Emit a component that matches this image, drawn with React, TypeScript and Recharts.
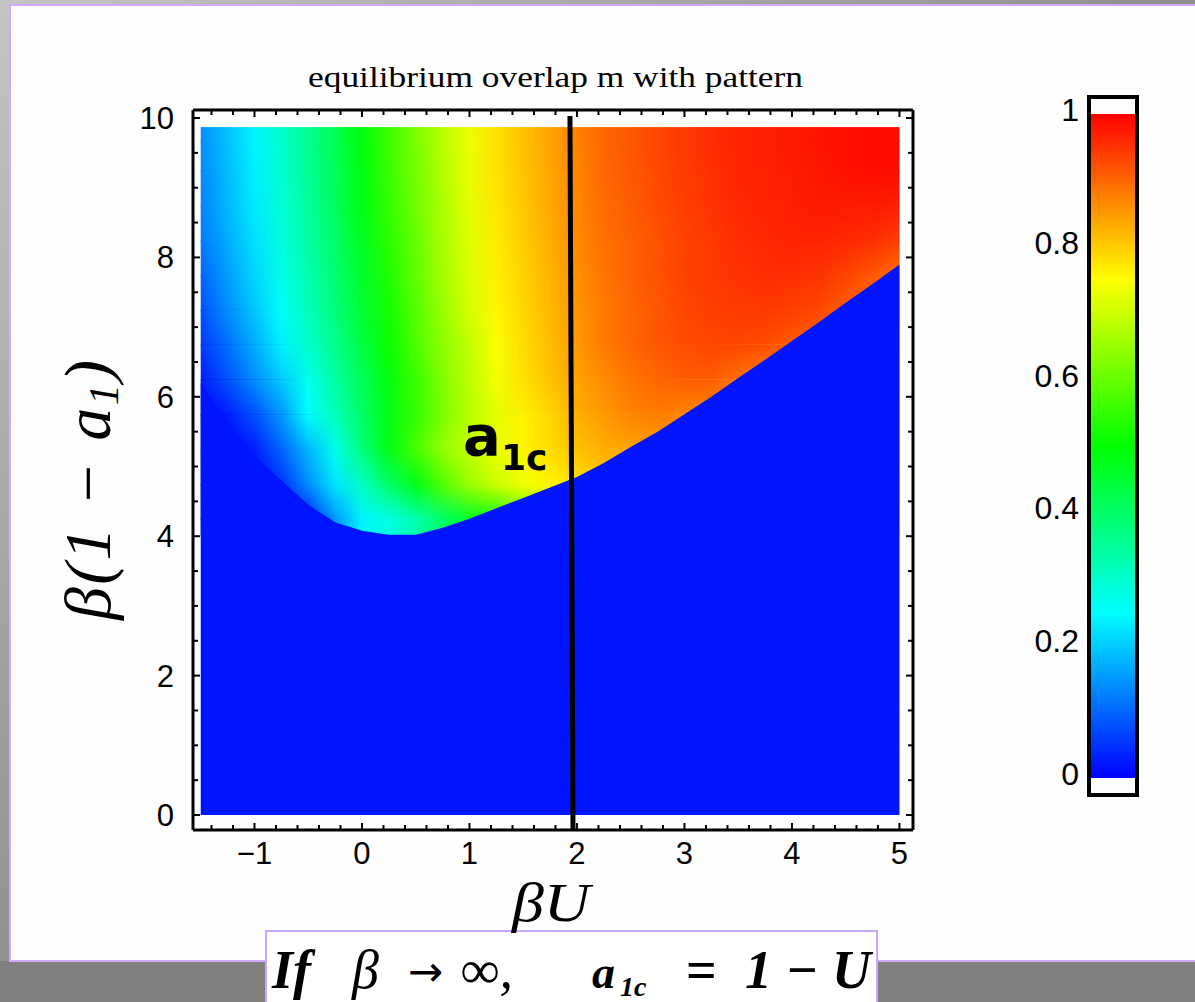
import React from "react";
import {
  Area,
  ComposedChart,
  ReferenceArea,
  ReferenceLine,
  XAxis,
  YAxis,
} from "recharts";

const X_COLS = [
  -1.5, -1.25, -1, -0.75, -0.5, -0.25, 0, 0.25, 0.5, 0.75, 1, 1.25, 1.5, 1.75,
  2, 2.25, 2.5, 2.75, 3, 3.25, 3.5, 3.75, 4, 4.25, 4.5, 4.75, 5,
];

// β(1-a1) below which m = 0 (blue region), one per column
const BOUNDARY = [
  6.2, 5.65, 5.15, 4.8, 4.45, 4.2, 4.08, 4.02, 4.02, 4.12, 4.25, 4.4, 4.55, 4.7,
  4.85, 5.05, 5.28, 5.5, 5.75, 6.0, 6.27, 6.53, 6.8, 7.07, 7.35, 7.62, 7.9,
];

// horizontal bands of the map (β(1-a1) range), top to bottom
const ROW_HI = [9.87, 9.5, 9.0, 8.5, 8.0, 7.5, 7.0, 6.5, 6.0, 5.5, 5.0, 4.5];
const ROW_LO = [9.5, 9.0, 8.5, 8.0, 7.5, 7.0, 6.5, 6.0, 5.5, 5.0, 4.5, 4.0];

// overlap m in each band, per column
const M_ROWS = [
  [0.14, 0.19, 0.24, 0.3, 0.36, 0.42, 0.49, 0.56, 0.62, 0.68, 0.73, 0.78, 0.81, 0.84, 0.873, 0.9, 0.915, 0.93, 0.945, 0.955, 0.965, 0.97, 0.975, 0.98, 0.985, 0.99, 0.99],
  [0.135, 0.185, 0.235, 0.295, 0.355, 0.415, 0.485, 0.555, 0.615, 0.675, 0.728, 0.778, 0.808, 0.838, 0.87, 0.898, 0.913, 0.928, 0.943, 0.953, 0.963, 0.968, 0.973, 0.978, 0.983, 0.988, 0.988],
  [0.13, 0.18, 0.23, 0.29, 0.35, 0.41, 0.48, 0.55, 0.61, 0.67, 0.725, 0.775, 0.805, 0.835, 0.868, 0.895, 0.91, 0.925, 0.94, 0.95, 0.96, 0.965, 0.97, 0.975, 0.975, 0.975, 0.97],
  [0.12, 0.17, 0.22, 0.28, 0.34, 0.4, 0.47, 0.54, 0.6, 0.665, 0.72, 0.77, 0.8, 0.83, 0.865, 0.89, 0.905, 0.92, 0.935, 0.945, 0.955, 0.96, 0.965, 0.965, 0.96, 0.955, 0.94],
  [0.1, 0.155, 0.21, 0.27, 0.33, 0.39, 0.46, 0.53, 0.595, 0.66, 0.715, 0.765, 0.795, 0.825, 0.86, 0.885, 0.905, 0.92, 0.935, 0.945, 0.95, 0.955, 0.955, 0.95, 0.935, 0.915, 0.89],
  [0.08, 0.14, 0.195, 0.255, 0.32, 0.38, 0.45, 0.52, 0.585, 0.65, 0.71, 0.76, 0.79, 0.82, 0.855, 0.88, 0.9, 0.915, 0.93, 0.94, 0.945, 0.945, 0.94, 0.93, 0.91, 0.89, 0.87],
  [0.055, 0.11, 0.17, 0.235, 0.3, 0.365, 0.435, 0.51, 0.575, 0.64, 0.69, 0.745, 0.785, 0.815, 0.85, 0.88, 0.9, 0.915, 0.925, 0.93, 0.93, 0.925, 0.91, 0.9, 0.88, 0.86, 0.84],
  [0.03, 0.08, 0.14, 0.2, 0.27, 0.34, 0.415, 0.49, 0.56, 0.625, 0.685, 0.74, 0.78, 0.81, 0.84, 0.865, 0.885, 0.9, 0.91, 0.91, 0.89, 0.87, 0.86, 0.85, 0.83, 0.81, 0.79],
  [0.01, 0.03, 0.08, 0.15, 0.25, 0.32, 0.4, 0.48, 0.55, 0.62, 0.68, 0.72, 0.765, 0.79, 0.83, 0.85, 0.87, 0.88, 0.87, 0.86, 0.85, 0.84, 0.83, 0.82, 0.81, 0.8, 0.8],
  [0, 0, 0.03, 0.1, 0.18, 0.27, 0.38, 0.48, 0.57, 0.645, 0.69, 0.73, 0.76, 0.785, 0.81, 0.83, 0.84, 0.84, 0.83, 0.82, 0.81, 0.8, 0.8, 0.8, 0.8, 0.8, 0.8],
  [0, 0, 0, 0.05, 0.14, 0.225, 0.31, 0.4, 0.48, 0.58, 0.655, 0.7, 0.735, 0.76, 0.78, 0.8, 0.8, 0.8, 0.8, 0.8, 0.8, 0.8, 0.8, 0.8, 0.8, 0.8, 0.8],
  [0, 0, 0, 0, 0.04, 0.15, 0.24, 0.28, 0.33, 0.4, 0.46, 0.52, 0.58, 0.62, 0.65, 0.68, 0.7, 0.7, 0.7, 0.7, 0.7, 0.7, 0.7, 0.7, 0.7, 0.7, 0.7],
];

const X_LABELS = [-1, 0, 1, 2, 3, 4, 5];
const Y_LABELS = [0, 2, 4, 6, 8, 10];
const CBAR_LABELS = [0, 0.2, 0.4, 0.6, 0.8, 1];
const CBAR_STOPS = [0, 0.25, 0.5, 0.75, 1];

// the a1c cut drawn over the map
const CUT_LINE = [
  { x: 1.935, y: 10.03 },
  { x: 1.963, y: -0.215 },
];

const X_DOMAIN = [-1.572, 5.126];
const Y_DOMAIN = [-0.215, 10.115];
const X_MIN = X_COLS[0];
const X_MAX = X_COLS[X_COLS.length - 1];

const range = (a: number, b: number, step: number) => {
  const out: number[] = [];
  for (let v = a; v <= b + 1e-9; v += step) out.push(Math.round(v * 100) / 100);
  return out;
};
const X_TICKS = range(-1.4, 5, 0.2);
const Y_TICKS = range(0, 10, 0.5);

const TICK_FONT = "'Liberation Sans', Arial, sans-serif";
const SERIF = "'Liberation Serif', 'Times New Roman', serif";
const BLUE = "#0014ff";

// Mathematica-style Hue colouring: m=0 blue ... m=1 red
function hueColor(m: number) {
  const h = (2 / 3) * (1 - Math.max(0, Math.min(1, m)));
  const s = h * 6;
  const i = Math.floor(s);
  const f = s - i;
  let r = 0, g = 0, b = 0;
  if (i === 0) { r = 1; g = f; }
  else if (i === 1) { r = 1 - f; g = 1; }
  else if (i === 2) { g = 1; b = f; }
  else if (i === 3) { g = 1 - f; b = 1; }
  else { b = 1; }
  return `rgb(${Math.round(r * 255)},${Math.round(g * 255)},${Math.round(b * 255)})`;
}

const isMajor = (v: number, majors: number[]) =>
  majors.some((m) => Math.abs(m - v) < 1e-6);
const fmt = (v: number) => (v < 0 ? `\u2212${-v}` : `${v}`);

function XTick(props: any) {
  const { x, y, payload, side } = props;
  const major = isMajor(payload.value, X_LABELS);
  const len = major ? 7 : 5;
  const dir = side === "bottom" ? -1 : 1;
  return (
    <g>
      <line x1={x} x2={x} y1={y} y2={y + dir * len} stroke="#000" strokeWidth={2} />
      {side === "bottom" && major && (
        <text x={x} y={y + 34} textAnchor="middle" fontFamily={TICK_FONT} fontSize={31} fill="#000">
          {fmt(payload.value)}
        </text>
      )}
    </g>
  );
}

function YTick(props: any) {
  const { x, y, payload, side } = props;
  const major = isMajor(payload.value, Y_LABELS);
  const len = major ? 7 : 5;
  const dir = side === "left" ? 1 : -1;
  return (
    <g>
      <line x1={x} x2={x + dir * len} y1={y} y2={y} stroke="#000" strokeWidth={2} />
      {side === "left" && major && (
        <text x={x - 19} y={y + 11} textAnchor="end" fontFamily={TICK_FONT} fontSize={31} fill="#000">
          {fmt(payload.value)}
        </text>
      )}
    </g>
  );
}

function CbarTick(props: any) {
  const { x, y, payload } = props;
  return (
    <text x={x - 10} y={y + 7} textAnchor="end" fontFamily={TICK_FONT} fontSize={32} fill="#000">
      {`${payload.value}`}
    </text>
  );
}

const frameLine = { stroke: "#000", strokeWidth: 3 };

// each pair of neighbouring read rows is blended vertically between their centres
function bandPieces() {
  const mid = ROW_HI.map((hi, r) => (hi + ROW_LO[r]) / 2);
  const pieces: { lo: number; hi: number; base: number; over: number | null }[] = [];
  pieces.push({ lo: mid[0], hi: ROW_HI[0], base: 0, over: null });
  for (let r = 0; r < M_ROWS.length - 1; r++) {
    pieces.push({ lo: mid[r + 1], hi: mid[r], base: r + 1, over: r });
  }
  const last = M_ROWS.length - 1;
  pieces.push({ lo: ROW_LO[last], hi: mid[last], base: last, over: null });
  return pieces;
}

function OverlapMap() {
  const blueData = X_COLS.map((x, i) => ({ x, blue: [0, BOUNDARY[i]] }));
  const pieces = bandPieces();
  return (
    <ComposedChart
      width={1195}
      height={1002}
      data={blueData}
      margin={{ top: 100, right: 272, bottom: 112, left: 133 }}
    >
      <defs>
        {M_ROWS.map((row, r) => (
          <linearGradient key={r} id={`band${r}`} x1="0" y1="0" x2="1" y2="0">
            {row.map((m, c) => (
              <stop
                key={c}
                offset={(X_COLS[c] - X_MIN) / (X_MAX - X_MIN)}
                stopColor={hueColor(m)}
              />
            ))}
          </linearGradient>
        ))}
        <linearGradient id="vfade" x1="0" y1="0" x2="0" y2="1">
          <stop offset="0" stopColor="#fff" />
          <stop offset="1" stopColor="#000" />
        </linearGradient>
        <mask id="fadeDown" maskContentUnits="objectBoundingBox">
          <rect x="0" y="0" width="1" height="1" fill="url(#vfade)" />
        </mask>
      </defs>
      <XAxis
        xAxisId="b"
        type="number"
        dataKey="x"
        domain={X_DOMAIN}
        allowDataOverflow
        ticks={X_TICKS}
        interval={0}
        height={60}
        tickSize={0}
        tickMargin={0}
        axisLine={frameLine}
        tickLine={false}
        tick={(p: any) => <XTick {...p} side="bottom" />}
      />
      <XAxis
        xAxisId="t"
        orientation="top"
        type="number"
        dataKey="x"
        domain={X_DOMAIN}
        allowDataOverflow
        ticks={X_TICKS}
        interval={0}
        height={10}
        tickSize={0}
        tickMargin={0}
        axisLine={frameLine}
        tickLine={false}
        tick={(p: any) => <XTick {...p} side="top" />}
      />
      <YAxis
        yAxisId="l"
        type="number"
        domain={Y_DOMAIN}
        allowDataOverflow
        ticks={Y_TICKS}
        interval={0}
        width={60}
        tickSize={0}
        tickMargin={0}
        axisLine={frameLine}
        tickLine={false}
        tick={(p: any) => <YTick {...p} side="left" />}
      />
      <YAxis
        yAxisId="r"
        orientation="right"
        type="number"
        domain={Y_DOMAIN}
        allowDataOverflow
        ticks={Y_TICKS}
        interval={0}
        width={10}
        tickSize={0}
        tickMargin={0}
        axisLine={frameLine}
        tickLine={false}
        tick={(p: any) => <YTick {...p} side="right" />}
      />
      {pieces.map((pc, k) => (
        <ReferenceArea
          key={k}
          xAxisId="b"
          yAxisId="l"
          x1={X_MIN}
          x2={X_MAX}
          y1={pc.lo}
          y2={pc.hi}
          fillOpacity={1}
          stroke="none"
          zIndex={50}
          shape={(p: any) => (
            <g>
              <rect
                x={p.x}
                y={p.y}
                width={p.width}
                height={p.height + (k < pieces.length - 1 ? 1.5 : 0)}
                fill={`url(#band${pc.base})`}
              />
              {pc.over !== null && (
                <rect
                  x={p.x}
                  y={p.y}
                  width={p.width}
                  height={p.height}
                  fill={`url(#band${pc.over})`}
                  mask="url(#fadeDown)"
                />
              )}
            </g>
          )}
        />
      ))}
      <Area
        xAxisId="b"
        yAxisId="l"
        dataKey="blue"
        type="linear"
        fill={BLUE}
        fillOpacity={1}
        stroke="none"
        dot={false}
        activeDot={false}
        isAnimationActive={false}
        zIndex={150}
      />
      <ReferenceLine
        xAxisId="b"
        yAxisId="l"
        segment={CUT_LINE}
        stroke="#000"
        strokeWidth={5}
        ifOverflow="visible"
        zIndex={600}
      />
    </ComposedChart>
  );
}

function ColorBar() {
  const data = CBAR_LABELS.map((m) => ({ x: 0.5, m }));
  return (
    <ComposedChart
      width={147}
      height={1002}
      data={data}
      margin={{ top: 97, right: 10, bottom: 207, left: 9 }}
    >
      <defs>
        <linearGradient id="cbar" x1="0" y1="1" x2="0" y2="0">
          {CBAR_STOPS.map((m) => (
            <stop key={m} offset={m} stopColor={hueColor(m)} />
          ))}
        </linearGradient>
      </defs>
      <XAxis type="number" dataKey="x" domain={[0, 1]} hide />
      <YAxis
        type="number"
        dataKey="m"
        domain={[-0.0256, 1.0256]}
        allowDataOverflow
        ticks={CBAR_LABELS}
        interval={0}
        width={80}
        tickSize={0}
        tickMargin={0}
        axisLine={false}
        tickLine={false}
        tick={(p: any) => <CbarTick {...p} />}
      />
      <ReferenceArea x1={0} x2={1} y1={0} y2={1} fill="url(#cbar)" fillOpacity={1} stroke="none" />
      <ReferenceArea
        x1={0}
        x2={1}
        y1={-0.0256}
        y2={1.0256}
        fill="none"
        stroke="#000"
        strokeWidth={4}
      />
    </ComposedChart>
  );
}

export default function App() {
  return (
    <div
      style={{
        position: "absolute",
        left: 0,
        top: 0,
        width: 1195,
        height: 1002,
        overflow: "hidden",
        background: "linear-gradient(to bottom right, #c4c4c4, #8a8a8a 55%, #7c7c7c)",
      }}
    >
      <div style={{ position: "absolute", left: 0, top: 961, width: 1195, height: 41, background: "#808080" }} />
      <div
        style={{
          position: "absolute",
          left: 9,
          top: 4,
          width: 1200,
          height: 958,
          boxSizing: "border-box",
          background: "#fefefe",
          border: "2px solid #d2aaff",
        }}
      />
      <div style={{ position: "absolute", left: 0, top: 0 }}>
        <OverlapMap />
      </div>
      <div style={{ position: "absolute", left: 1000, top: 0 }}>
        <ColorBar />
      </div>
      <div
        style={{
          position: "absolute",
          left: 265,
          top: 930,
          width: 613,
          height: 90,
          boxSizing: "border-box",
          background: "#ffffff",
          border: "2px solid #c9a6ff",
        }}
      />
      <svg
        width={1195}
        height={1002}
        style={{ position: "absolute", left: 0, top: 0, pointerEvents: "none" }}
      >
        <text x={308} y={87} textLength={495} lengthAdjust="spacingAndGlyphs" fontFamily={SERIF} fontSize={29} fill="#000">
          equilibrium  overlap m with pattern
        </text>
        <text
          x={110}
          y={490}
          transform="rotate(-90 110 490)"
          textAnchor="middle"
          textLength={260}
          lengthAdjust="spacing"
          fontFamily={SERIF}
          fontStyle="italic"
          fontSize={66}
          fill="#000"
        >
          β(1 − a<tspan fontSize={42} dy={8}>1</tspan>
          <tspan dy={-8}>)</tspan>
        </text>
        <text x={551} y={921} textAnchor="middle" textLength={78} lengthAdjust="spacingAndGlyphs" fontFamily={SERIF} fontStyle="italic" fontSize={54} fill="#000">
          βU
        </text>
        <text x={463} y={455} fontFamily="'DejaVu Sans', sans-serif" fontWeight="bold" fontSize={56} fill="#000">
          a
        </text>
        <text x={501} y={470} fontFamily="'DejaVu Sans', sans-serif" fontWeight="bold" fontSize={36} fill="#000">
          1c
        </text>
        <g fontFamily={SERIF} fontStyle="italic" fontWeight="bold" fill="#000">
          <text x={272} y={988} fontSize={54}>If</text>
          <text x={352} y={988} fontSize={54} fontWeight="normal">β</text>
          <text x={408} y={986} fontSize={42} fontFamily="'DejaVu Sans', sans-serif" fontStyle="normal" fontWeight="normal">→</text>
          <text x={461} y={988} fontSize={54} fontWeight="normal">∞,</text>
          <text x={592} y={988} fontSize={46}>a</text>
          <text x={620} y={996} fontSize={28}>1c</text>
          <text x={686} y={988} fontSize={54} fontStyle="normal">=</text>
          <text x={745} y={988} fontSize={54}>1</text>
          <text x={787} y={988} fontSize={54} fontStyle="normal">−</text>
          <text x={832} y={988} fontSize={54}>U</text>
        </g>
      </svg>
    </div>
  );
}
